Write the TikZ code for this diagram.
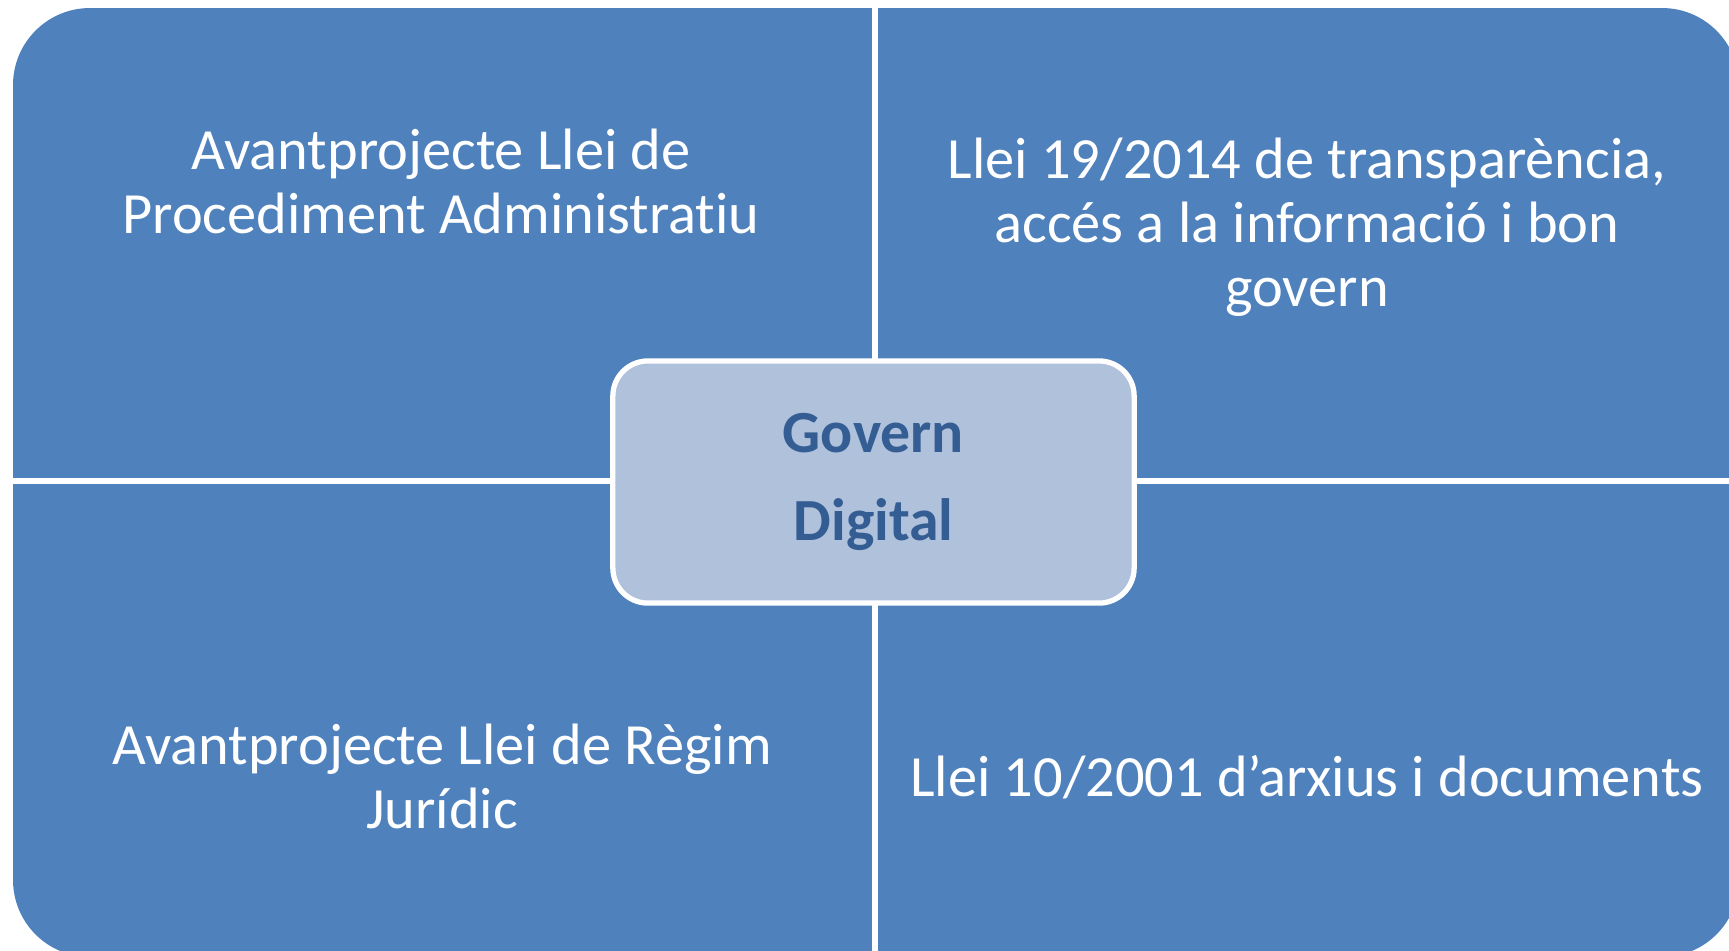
\documentclass[tikz,border=0pt]{standalone}
\usepackage{fontspec}
\setmainfont{Carlito}[Ligatures=NoCommon]
\usepackage{tikz}
\definecolor{quadblue}{HTML}{4F81BD}
\definecolor{hubfill}{HTML}{B0C1DB}
\definecolor{hubtext}{HTML}{345E93}

\begin{document}
\begin{tikzpicture}[x=0.01cm,y=-0.01cm]
			\tikzset{
			quad/.style={fill=quadblue, rounded corners=7.7mm},
			gap/.style={draw=white, line width=0.06cm},
			lbl/.style={
					text=white, align=center, inner sep=0pt,
					font=\fontsize{16.6}{18.2}\selectfont,
				},
			hub/.style={
					rectangle, draw=white, line width=1.5pt, fill=hubfill,
					minimum width=5.21cm, minimum height=2.42cm,
					rounded corners=3.5mm, text=hubtext, align=center,
					font=\fontsize{17}{25}\selectfont\bfseries,
				},
			}
			\useasboundingbox (0,0) rectangle (1729,950);

			% matrix background split in four
			\fill[quad] (13,8) rectangle (1739,957);
			\draw[gap] (875,8) -- (875,957);
			\draw[gap] (13,481) -- (1739,481);

			\node[lbl] (tl) at (441,181) {Avantprojecte Llei de\\Procediment Administratiu};
			\node[lbl] (tr) at (1307,227) {Llei 19/2014 de transparència,\\accés a la informació i bon\\govern};
			\node[lbl] (bl) at (442,776) {Avantprojecte Llei de Règim\\Jurídic};
			\node[lbl] (br) at (1307,777) {Llei 10/2001 d’arxius i documents};

			\node[hub] (hub) at (873.5,482) {Govern\\Digital};
		\end{tikzpicture}
\end{document}
